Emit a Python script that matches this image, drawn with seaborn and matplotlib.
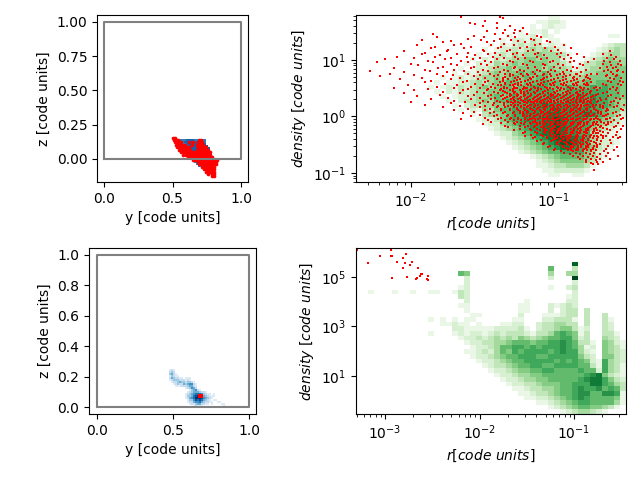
import numpy as np
import pandas as pd
import matplotlib
matplotlib.use("Agg")
import matplotlib.pyplot as plt
from matplotlib.ticker import NullLocator
import seaborn as sns

W, H = 640, 480
BOX_X = [0, 1, 1, 0, 0]
BOX_Y = [0, 0, 1, 1, 0]

# density/r histogram, top right: rows run from high to low density
TOP_GREEN = [
"000000000000000000000000000000001100000000000",
"000000000000000000000000000000112210000000000",
"000000000000000000000000000001012110000000000",
"000000000000000000000000000101120100000000000",
"000000000000000000000000010112021000000000110",
"000000000000000000000000102213201100000000000",
"000000000000000000000010212323312110000001233",
"000000000000000000000101223234343210000012343",
"000000000000000000001012324344544431000123443",
"000000000000000000010213234455454421001234544",
"000000000000000000102124345455554432013345554",
"000000000000000001012234454555545443123445555",
"000000000000000010212345455656565544334455555",
"000000000000001012123445456565665554445555565",
"000000000000010112234345566566676655556566665",
"000000000000101213234545665667776667666767665",
"000000000000010213234455666677777667777777665",
"000000000000001012234456567677778777787877665",
"000000000000000102334546677787887778887877654",
"000000000000000010233445567778898888878877654",
"000000000000000001021435667788888988888776553",
"000000000000000000010344567788889988889876542",
"000000000000000000001223567788899a98887665431",
"000000000000000000000122456778899a98877654321",
"000000000000000000000012345678899a98877543210",
"000000000000000000000001224567899a98877432110",
"000000000000000000000000123456789aa9987432110",
"0000000000000000000000000123456789aa987432210",
"000000000000000000000000001234567899876532100",
"000000000000000000000000000123456677775421000",
"000000000000000000000000000001234566665421000",
"000000000000000000000000000000123455554310000",
"000000000000000000000000000000112334443100000",
"000000000000000000000000000000011222221000000",
"000000000000000000000000000000001100110000000",
"000000000000000000000000000000000000000000000",
]

# density/r histogram, bottom right
BOTTOM_GREEN = [
"000000000000000000000000000000000000000000000",
"000000000000000000000000000000000000000000000",
"000000000000000000000000000000000000000000000",
"000000000000000000000000000000000000a00000000",
"000000000000000000000000000000006000300000000",
"000000000000000006500000000000004004400000000",
"000000000000000000200000000000002000c00000000",
"000000000000000000200000000000000000200000000",
"000000000000000001200000000000001002300000000",
"001000100100110013200000000000000000200000000",
"000000000000000003200000000000000001200000000",
"000000000000000000200000000010000002200000000",
"000000000000000001100000000110002123200000000",
"000000000000000000100000000110002023303000000",
"000000000000000000011000000200011123303003000",
"000000000000101010110000001100022333103003100",
"000000000000001121101000112200233443303003200",
"000000000000000022111112222310233455312003200",
"000000000000100012122123233321334676513003310",
"000000000000000001223234343543456677523004320",
"000000000000000000122334456665667787633105421",
"000000000000000000012234667767677787641205431",
"000000000000000000112324657677776787742105432",
"000000000000000000012234566777667777753205532",
"000000000000000000001223456677777676765217432",
"000000000000000000000123345667766777766317431",
"000000000000000000000012234556677666676627431",
"000000000000000000000001223445566666667895321",
"000000000000000000000000122344556666678997532",
"000000000000000000000000012233455566777997643",
"000000000000000000000000001123344566787786763",
"000000000000000000000000000112334566788668871",
"000000000000000000000000000011223456787666651",
"000000000000000000000000000000112345677666641",
"000000000000000000000000000000001234566554310",
"000000000000000000000000000000000012344321000",
]

# projected gas map, top left
TOP_BLUE = [
"000000000000000000000",
"007777788887777770000",
"000777888888888770000",
"000077788898888880000",
"000007778888888888000",
"000000778888888888800",
"000000077888888888800",
"000000077888888888800",
"000000007788888888880",
"000000000778888888880",
"000000000777888888880",
"000000000077788888880",
"000000000007778888880",
"000000000000777888800",
"000000000000077778800",
"000000000000000000000",
"000000000000000000000",
"000000000000000000000",
]

# projected gas map, bottom left
BOTTOM_BLUE = [
"00000000000000000000000000000000",
"01210000000000000000000000000000",
"02320000000000000000000000000000",
"03421000000000000000000000000000",
"01321100000000000000000000000000",
"02432211011100000000000000000000",
"01233322212100000000000000000000",
"00122343323321000000000000000000",
"00012322434552100000000000000000",
"00001112223442100000000000000000",
"00000000012354200000000000000000",
"00000000000134521000000000000000",
"00000000001234443221000000000000",
"00000000012345666532110100000000",
"00000000013346797643211100000000",
"00000000012456898754321000000000",
"00000000001335767643210110000000",
"00000000001224556432211001100000",
"00000000000121344221101000011000",
"00000000000001211100000000001000",
]

# red particles, top left: (z, y values in thousandths)
TOP_STARS_MAP = [
(0.155, [505, 520]),
(0.140, [510, 525, 540, 695, 705]),
(0.122, [515, 530, 545, 560, 620, 650, 685, 700, 715]),
(0.104, [525, 540, 555, 570, 590, 640, 680, 695, 710, 725]),
(0.086, [535, 550, 565, 580, 595, 620, 685, 700, 715, 730, 745]),
(0.068, [545, 560, 575, 590, 605, 625, 680, 695, 710, 725, 740, 755]),
(0.050, [560, 575, 590, 605, 620, 640, 655, 680, 695, 710, 725, 740, 755, 770]),
(0.032, [580, 595, 610, 625, 640, 655, 670, 685, 700, 715, 730, 745, 760, 775]),
(0.014, [610, 625, 640, 655, 670, 685, 700, 715, 730, 745, 760, 775, 790]),
(-0.004, [650, 665, 680, 695, 710, 725, 740, 755, 770, 785, 800, 815, 825]),
(-0.022, [685, 700, 715, 730, 745, 760, 775, 790, 805, 820]),
(-0.040, [695, 710, 725, 740, 755, 770, 785, 800, 815]),
(-0.058, [715, 730, 745, 760, 775, 790, 805]),
(-0.076, [730, 745, 760, 775, 790, 805]),
(-0.094, [745, 760, 775, 790, 805]),
(-0.112, [760, 790, 805]),
(-0.125, [790, 805]),
]

# red particles, bottom left
BOTTOM_STARS_Y = [0.668, 0.675, 0.682, 0.690, 0.668, 0.675, 0.682, 0.690]
BOTTOM_STARS_Z = [0.076, 0.076, 0.076, 0.076, 0.068, 0.068, 0.068, 0.068]

# red particles, top right: (log10 density, -100*log10 r)
TOP_STARS = [
(1.76, [165, 138]), (1.74, [136]), (1.69, [148]), (1.66, [159, 140]), (1.63, [155]),
(1.60, [150, 131]), (1.57, [140, 122]), (1.53, [134, 127]), (1.51, [147, 124]), (1.48, [136, 128]),
(1.46, [185, 141, 119]), (1.43, [156, 132, 112]), (1.41, [182, 149, 127, 109]), (1.38, [160, 138, 116]),
(1.36, [192, 151, 130, 114]), (1.33, [172, 142, 125, 105]), (1.31, [178, 147, 120, 103]), (1.28, [165, 135, 110]),
(1.26, [196, 170, 144, 128, 113, 93]), (1.23, [183, 158, 137, 119, 99]),
(1.21, [186, 163, 139, 124, 106, 88]), (1.18, [174, 150, 131, 115, 97]),
(1.16, [205, 175, 149, 133, 118, 102, 61]), (1.13, [190, 160, 141, 126, 111, 95]),
(1.11, [192, 168, 146, 129, 113, 98, 84, 66]), (1.08, [180, 155, 138, 122, 107, 90, 60]),
(1.06, [210, 183, 161, 143, 127, 112, 96, 79, 57]), (1.03, [198, 172, 152, 135, 120, 105, 88, 63]),
(1.01, [218, 176, 157, 140, 125, 109, 93, 72, 58]), (0.98, [188, 165, 148, 131, 117, 101, 86, 65, 54]),
(0.96, [224, 185, 160, 144, 129, 115, 103, 89, 76, 61]), (0.93, [200, 172, 151, 136, 122, 108, 97, 82, 66, 55]),
(0.91, [195, 168, 147, 133, 119, 106, 94, 80, 60, 53]), (0.88, [178, 156, 139, 127, 113, 100, 87, 63, 57]),
(0.86, [212, 181, 158, 142, 128, 118, 107, 96, 84, 68, 59]), (0.83, [190, 170, 150, 135, 124, 112, 102, 91, 78, 62, 55]),
(0.81, [229, 187, 163, 146, 132, 121, 110, 99, 88, 65, 56]), (0.78, [205, 175, 153, 138, 126, 115, 104, 94, 81, 60, 52]),
(0.76, [215, 182, 160, 145, 134, 123, 113, 103, 93, 84, 70, 59]), (0.73, [198, 171, 152, 139, 129, 118, 108, 98, 89, 77, 63, 56]),
(0.71, [222, 178, 156, 142, 131, 122, 112, 102, 92, 82, 64, 57]), (0.68, [192, 166, 148, 136, 127, 117, 107, 97, 87, 76, 61, 53]),
(0.66, [208, 172, 153, 140, 132, 124, 116, 108, 100, 92, 84, 75, 58]), (0.63, [186, 161, 146, 136, 128, 120, 112, 104, 96, 88, 80, 62, 54]),
(0.61, [190, 164, 148, 138, 130, 123, 115, 107, 99, 91, 83, 74, 60, 52]), (0.58, [176, 155, 143, 134, 127, 119, 111, 103, 95, 87, 79, 66, 55]),
(0.56, [202, 168, 150, 139, 131, 125, 118, 110, 102, 94, 86, 78, 64, 53]), (0.53, [182, 158, 144, 135, 128, 121, 114, 106, 98, 90, 82, 71, 59]),
(0.51, [212, 170, 152, 141, 133, 126, 119, 113, 105, 97, 89, 81, 68, 56]), (0.48, [188, 160, 146, 137, 129, 122, 116, 109, 101, 93, 85, 76, 61]),
(0.46, [198, 164, 147, 138, 131, 124, 117, 111, 104, 96, 88, 80, 70, 57]), (0.43, [178, 154, 142, 134, 127, 121, 114, 108, 100, 92, 84, 75, 63]),
(0.41, [205, 166, 149, 139, 133, 128, 123, 118, 113, 108, 104, 99, 94, 89, 85, 80, 75, 66, 55]),
(0.38, [180, 156, 144, 136, 130, 125, 120, 116, 111, 106, 101, 96, 92, 87, 82, 78, 71, 60]),
(0.36, [196, 160, 146, 137, 131, 126, 121, 117, 112, 107, 102, 98, 93, 88, 83, 79, 73, 62, 52]),
(0.33, [174, 152, 141, 134, 129, 124, 119, 114, 110, 105, 100, 95, 90, 86, 81, 76, 68, 57]),
(0.31, [186, 158, 144, 136, 130, 125, 120, 115, 111, 106, 103, 97, 92, 87, 84, 78, 72, 64, 54]),
(0.28, [170, 150, 140, 133, 127, 122, 118, 113, 109, 104, 100, 95, 90, 85, 81, 76, 69, 58]),
(0.26, [200, 162, 146, 138, 132, 127, 121, 116, 112, 107, 102, 97, 92, 87, 82, 77, 70, 60]),
(0.23, [172, 152, 142, 135, 129, 124, 119, 114, 109, 105, 99, 94, 89, 84, 80, 74, 65, 55]),
(0.21, [190, 155, 143, 135, 130, 125, 120, 116, 111, 106, 101, 96, 91, 86, 81, 76, 71, 61, 51]),
(0.18, [166, 148, 139, 132, 128, 123, 118, 113, 108, 103, 98, 93, 89, 84, 79, 73, 66, 56]),
(0.16, [178, 152, 140, 134, 128, 123, 119, 114, 110, 105, 100, 95, 90, 85, 81, 75, 68, 58]),
(0.13, [160, 145, 137, 131, 126, 121, 116, 112, 107, 102, 98, 93, 88, 83, 78, 72, 63, 53]),
(0.11, [170, 148, 137, 131, 125, 120, 115, 110, 106, 101, 96, 92, 87, 82, 77, 71, 62, 52]),
(0.08, [156, 142, 134, 128, 122, 118, 113, 108, 104, 99, 94, 89, 84, 80, 74, 67, 57]),
(0.06, [164, 145, 136, 129, 124, 119, 114, 109, 105, 100, 95, 91, 86, 81, 76, 69, 59]),
(0.03, [152, 140, 132, 127, 121, 117, 112, 107, 103, 98, 93, 88, 83, 78, 73, 64, 54]),
(0.01, [158, 142, 133, 127, 122, 117, 113, 108, 103, 98, 94, 89, 84, 79, 74, 66, 56]),
(-0.02, [148, 137, 130, 125, 120, 115, 110, 105, 101, 96, 91, 87, 82, 77, 71, 61, 52]),
(-0.04, [165, 139, 131, 125, 120, 116, 111, 106, 101, 97, 92, 87, 83, 78, 72, 63, 53]),
(-0.07, [146, 134, 128, 123, 118, 113, 108, 104, 99, 94, 90, 85, 80, 75, 68, 58]),
(-0.09, [144, 132, 126, 120, 115, 110, 105, 100, 95, 91, 86, 81, 76, 70, 60]),
(-0.12, [137, 128, 123, 117, 112, 107, 103, 98, 93, 88, 83, 79, 73, 65, 55]),
(-0.14, [150, 127, 121, 116, 110, 106, 101, 96, 92, 87, 82, 77, 71, 62]),
(-0.17, [134, 124, 118, 113, 108, 103, 99, 94, 89, 84, 80, 74, 67, 57, 52]),
(-0.19, [132, 120, 114, 109, 104, 99, 95, 90, 85, 81, 75, 68, 58]),
(-0.22, [124, 117, 112, 106, 102, 97, 92, 88, 83, 78, 72, 63, 53]),
(-0.24, [128, 116, 110, 105, 100, 96, 91, 86, 81, 76, 70, 61]),
(-0.27, [120, 113, 107, 103, 98, 93, 88, 84, 79, 73, 66, 56]),
(-0.29, [122, 112, 106, 101, 96, 91, 87, 82, 77, 71, 62]),
(-0.32, [116, 109, 103, 99, 94, 89, 84, 79, 74, 67, 57]),
(-0.34, [120, 108, 102, 97, 92, 88, 83, 78, 72, 64]),
(-0.37, [113, 105, 100, 95, 90, 85, 80, 75, 69, 59, 54]),
(-0.39, [115, 105, 98, 93, 89, 84, 79, 73, 66, 55]),
(-0.42, [109, 101, 96, 91, 86, 81, 76, 70, 61]),
(-0.44, [112, 102, 95, 90, 85, 80, 74, 67]),
(-0.47, [107, 98, 92, 87, 82, 77, 71, 60]),
(-0.49, [108, 98, 91, 85, 80, 75, 68]),
(-0.52, [103, 94, 88, 83, 78, 72, 62]),
(-0.54, [104, 94, 87, 81, 76, 70, 56]),
(-0.57, [99, 90, 84, 79, 73, 64]),
(-0.59, [100, 90, 83, 77, 71, 58]),
(-0.62, [95, 87, 80, 74, 65]),
(-0.65, [93, 85, 78, 72, 62]),
(-0.67, [89, 82, 75, 68]),
(-0.70, [87, 80, 73, 64, 55]),
(-0.72, [83, 76, 70]),
(-0.75, [82, 74, 68, 61]),
(-0.77, [78, 71]),
(-0.80, [78, 70, 66]),
(-0.83, [74]),
(-0.85, [73, 69]),
(-0.95, [72]),
]

# denser red core, same units
TOP_STARS_CORE = [
(0.75, [131, 119, 107, 96, 85, 74]),
(0.70, [134, 125, 115, 105, 94, 86, 78]),
(0.65, [136, 126, 118, 109, 102, 94, 86, 79]),
(0.60, [134, 125, 117, 109, 101, 93, 85, 77]),
(0.55, [137, 129, 123, 116, 108, 100, 92, 84, 76]),
(0.50, [135, 127, 120, 111, 103, 95, 87, 79, 72]),
(0.45, [136, 129, 123, 119, 112, 106, 98, 90, 82, 74]),
(0.40, [131, 126, 121, 116, 110, 102, 97, 91, 83, 77, 69]),
(0.35, [133, 128, 123, 118, 113, 109, 104, 99, 94, 89, 84, 80, 74]),
(0.30, [128, 123, 117, 112, 108, 102, 98, 93, 88, 82, 79, 74, 67]),
(0.25, [130, 125, 120, 115, 110, 103, 100, 95, 90, 85, 79, 75, 70]),
(0.20, [127, 121, 117, 113, 107, 102, 97, 92, 87, 83, 78, 73, 68]),
(0.15, [126, 121, 117, 111, 106, 101, 97, 91, 86, 82, 77, 72, 66]),
(0.10, [124, 119, 113, 109, 103, 98, 93, 88, 85, 79, 74, 69, 64]),
(0.05, [122, 116, 111, 106, 102, 97, 92, 87, 82, 77, 72, 67, 62]),
(0.00, [119, 114, 110, 105, 100, 95, 90, 85, 80, 75, 70, 65]),
(-0.05, [117, 113, 108, 103, 98, 93, 88, 84, 79, 74, 69, 64]),
(-0.10, [113, 108, 102, 97, 92, 87, 82, 77, 72, 67, 62]),
(-0.15, [112, 107, 102, 97, 93, 88, 83, 79, 73, 69, 64]),
(-0.20, [107, 101, 96, 91, 86, 82, 76, 71, 66]),
(-0.25, [106, 102, 97, 92, 87, 82, 78, 72, 68]),
(-0.30, [103, 98, 93, 88, 83, 78, 73, 69]),
(-0.35, [100, 95, 90, 85, 80, 75, 70, 66]),
(-0.40, [99, 94, 90, 85, 80, 76, 70]),
(-0.45, [97, 93, 88, 83, 78, 72]),
(-0.50, [96, 90, 86, 81, 76, 70]),
(-0.55, [92, 88, 83, 78, 73]),
(-0.60, [88, 85, 80, 74]),
]

# red particles, bottom right (log10 values)
BOTTOM_STARS_LOGR = [-3.30, -2.94, -3.18, -3.05, -2.94, -2.93, -2.78, -2.81, -2.87, -2.79, -2.71, -2.74,
                     -2.81, -2.65, -2.93, -2.77, -2.66, -2.675, -2.62, -2.63, -2.61, -2.545, -2.56, -2.54]
BOTTOM_STARS_LOGRHO = [6.09, 6.09, 5.58, 5.85, 5.85, 5.85, 5.93, 5.78, 5.62, 5.58, 5.62, 5.48,
                       5.38, 5.38, 4.95, 5.01, 4.97, 4.93, 5.11, 5.05, 5.12, 5.05, 4.91, 4.89]

XLABEL_MAP = "y [code units]"
YLABEL_MAP = "z [code units]"
XLABEL_R = r"$r [code\ units]$"
YLABEL_RHO = r"$density\ [code\ units]$"


def grid_cells(rows, xr, yr):
    nx, ny = len(rows[0]), len(rows)
    dx, dy = (xr[1] - xr[0]) / nx, (yr[1] - yr[0]) / ny
    recs = []
    for j, row in enumerate(rows):
        for i, c in enumerate(row):
            if c != "0":
                recs.append((xr[0] + (i + .5) * dx, yr[1] - (j + .5) * dy, int(c, 16)))
    return pd.DataFrame(recs, columns=["x", "y", "w"]), (nx, ny)


def pix_axes(fig, l, t, r, b):
    return fig.add_axes([l / W, 1 - b / H, (r - l) / W, (b - t) / H])


def draw_hist(ax, rows, xr, yr, cmap, vmax, log=False):
    df, bins = grid_cells(rows, xr, yr)
    if log:
        df["x"], df["y"] = 10 ** df["x"], 10 ** df["y"]
    sns.histplot(data=df, x="x", y="y", weights="w", bins=bins, binrange=(xr, yr),
                 cmap=cmap, vmin=0, vmax=vmax, log_scale=log, ax=ax, cbar=False)


fig = plt.figure(figsize=(6.4, 4.8), dpi=100)

# top left
ax = pix_axes(fig, 97, 15, 248, 182)
draw_hist(ax, TOP_BLUE, (0.5, 0.8), (-0.1, 0.16), "Blues", 10)
sy = [v / 1000 for z, vs in TOP_STARS_MAP for v in vs]
sz = [z for z, vs in TOP_STARS_MAP for v in vs]
sns.scatterplot(x=sy, y=sz, color="red", marker="o", s=7, linewidth=0, ax=ax)
sns.lineplot(x=BOX_X, y=BOX_Y, color="gray", lw=1.5, sort=False, estimator=None, ax=ax)
ax.set_xlim(-0.05, 1.05)
ax.set_ylim(-0.168, 1.05)
ax.set_xticks([0, 0.5, 1.0])
ax.set_yticks([0, 0.25, 0.5, 0.75, 1.0])
ax.set_xlabel(XLABEL_MAP)
ax.set_ylabel(YLABEL_MAP)

# top right
ax = pix_axes(fig, 356, 15, 626, 182)
draw_hist(ax, TOP_GREEN, (-2.385, -0.497), (-1.16, 1.796), "Greens", 11, log=True)
all_stars = TOP_STARS + TOP_STARS_CORE
rr = [10 ** (-v / 100) for y, vs in all_stars for v in vs]
rho = [10 ** y for y, vs in all_stars for v in vs]
sns.scatterplot(x=rr, y=rho, color="red", marker="s", s=4.5, linewidth=0, ax=ax)
ax.set_xlim(10 ** -2.385, 10 ** -0.497)
ax.set_ylim(10 ** -1.16, 10 ** 1.796)
ax.set_xlabel(XLABEL_R)
ax.set_ylabel(YLABEL_RHO)

# bottom left
ax = pix_axes(fig, 89, 248, 256, 414)
draw_hist(ax, BOTTOM_BLUE, (0.46, 0.88), (0.0, 0.26), "Blues", 8)
sns.scatterplot(x=BOTTOM_STARS_Y, y=BOTTOM_STARS_Z, color="red", marker="s", s=4, linewidth=0, ax=ax)
sns.lineplot(x=BOX_X, y=BOX_Y, color="gray", lw=1.5, sort=False, estimator=None, ax=ax)
ax.set_xlim(-0.053, 1.046)
ax.set_ylim(-0.046, 1.046)
ax.set_xticks([0, 0.5, 1.0])
ax.set_yticks([0, 0.2, 0.4, 0.6, 0.8, 1.0])
ax.set_xlabel(XLABEL_MAP)
ax.set_ylabel(YLABEL_MAP)

# bottom right
ax = pix_axes(fig, 356, 248, 626, 414)
draw_hist(ax, BOTTOM_GREEN, (-3.307, -0.45), (-0.535, 6.17), "Greens", 11, log=True)
sns.scatterplot(x=[10 ** v for v in BOTTOM_STARS_LOGR], y=[10 ** v for v in BOTTOM_STARS_LOGRHO],
                color="red", marker="s", s=4.5, linewidth=0, ax=ax)
ax.set_xlim(10 ** -3.307, 10 ** -0.45)
ax.set_ylim(10 ** -0.535, 10 ** 6.17)
ax.set_yticks([10, 1000, 100000])
ax.yaxis.set_minor_locator(NullLocator())
ax.set_xlabel(XLABEL_R)
ax.set_ylabel(YLABEL_RHO)

fig.savefig("out.png", dpi=100)
